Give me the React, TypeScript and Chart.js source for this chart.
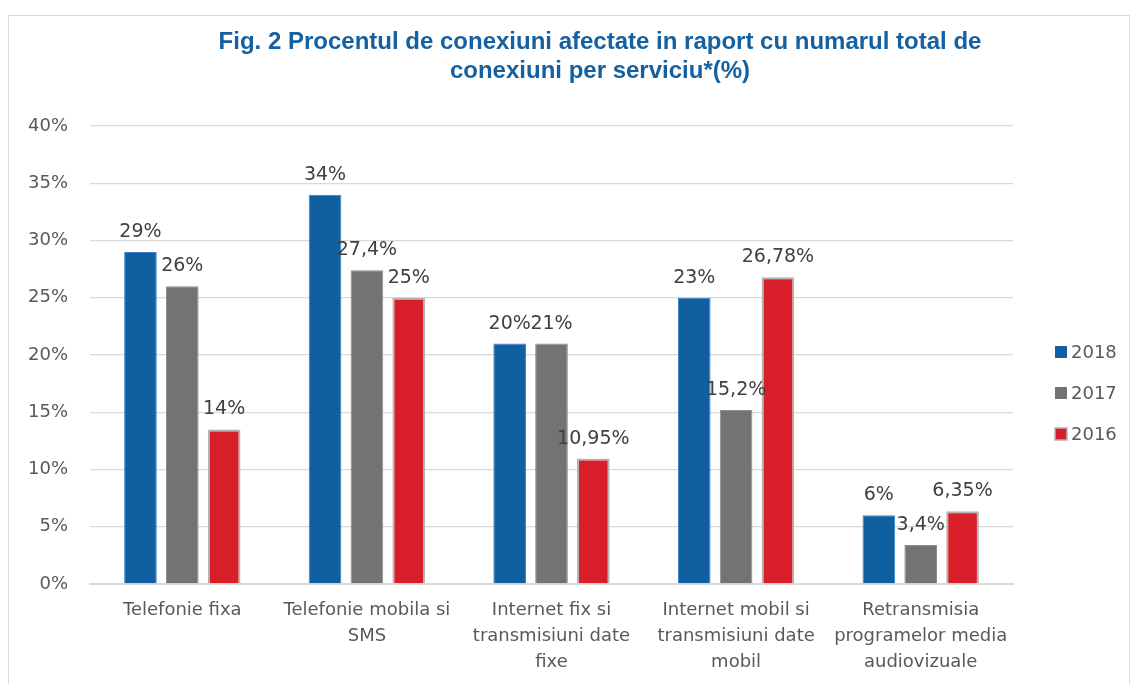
import React, { useEffect, useRef } from "react";
import { Chart, registerables } from "chart.js";

Chart.register(...registerables);

// ---- data ----
const titleLines = [
  "Fig. 2 Procentul de conexiuni afectate in raport cu numarul total de",
  "conexiuni per serviciu*(%)",
];
const categories: string[][] = [
  ["Telefonie fixa"],
  ["Telefonie mobila si", "SMS"],
  ["Internet fix si", "transmisiuni date", "fixe"],
  ["Internet mobil si", "transmisiuni date", "mobil"],
  ["Retransmisia", "programelor media", "audiovizuale"],
];
const seriesNames = ["2018", "2017", "2016"];
const values2018 = [29, 34, 21, 25, 6];
const values2017 = [26, 27.4, 21, 15.2, 3.4];
const values2016 = [13.5, 25, 10.95, 26.78, 6.35];
const labels2018 = ["29%", "34%", "20%", "23%", "6%"];
const labels2017 = ["26%", "27,4%", "21%", "15,2%", "3,4%"];
const labels2016 = ["14%", "25%", "10,95%", "26,78%", "6,35%"];
const yMin = 0;
const yMax = 40;
const yStep = 5;

const FONT = "'DejaVu Sans', Verdana, sans-serif";
const TEXT = "#595959";
const LABEL = "#404040";

const titlePlugin = {
  id: "customTitle",
  afterDraw(chart: any) {
    const ctx = chart.ctx;
    ctx.save();
    ctx.fillStyle = "#1560A0";
    ctx.font = "bold 24px 'Liberation Sans Narrow', 'Liberation Sans', Arial, sans-serif";
    ctx.textAlign = "center";
    ctx.textBaseline = "alphabetic";
    const cx = 591;
    titleLines.forEach((t, i) => ctx.fillText(t, cx, 33 + i * 29));
    ctx.restore();
  },
};

const valueLabelPlugin = {
  id: "valueLabels",
  afterDatasetsDraw(chart: any) {
    const ctx = chart.ctx;
    ctx.save();
    ctx.fillStyle = LABEL;
    ctx.font = `19px ${FONT}`;
    ctx.textAlign = "center";
    ctx.textBaseline = "alphabetic";
    chart.data.datasets.forEach((ds: any, di: number) => {
      const meta = chart.getDatasetMeta(di);
      meta.data.forEach((bar: any, i: number) => {
        ctx.fillText(ds.valueLabels[i], bar.x, bar.y - 15);
      });
    });
    ctx.restore();
  },
};

const legendPlugin = {
  id: "customLegend",
  afterDraw(chart: any) {
    const ctx = chart.ctx;
    const x0 = chart.chartArea.right + 42;
    const y0 = 336;
    const gap = 41;
    ctx.save();
    ctx.font = `18px ${FONT}`;
    ctx.textBaseline = "middle";
    ctx.textAlign = "left";
    chart.data.datasets.forEach((ds: any, i: number) => {
      const y = y0 + i * gap;
      ctx.fillStyle = ds.backgroundColor;
      ctx.fillRect(x0, y - 6, 12, 12);
      if (ds.borderWidth > 1) {
        ctx.strokeStyle = ds.borderColor;
        ctx.lineWidth = 1.5;
        ctx.strokeRect(x0, y - 6, 12, 12);
      }
      ctx.fillStyle = TEXT;
      ctx.fillText(ds.label, x0 + 16, y + 1);
    });
    ctx.restore();
  },
};

export default function App() {
  const ref = useRef<HTMLCanvasElement>(null);
  useEffect(() => {
    if (!ref.current) return;
    const chart = new Chart(ref.current, {
      type: "bar",
      data: {
        labels: categories,
        datasets: [
          {
            label: seriesNames[0],
            data: values2018,
            valueLabels: labels2018,
            backgroundColor: "#0F5FA1",
            borderColor: "#3C7FC0",
            borderWidth: 1,
          } as any,
          {
            label: seriesNames[1],
            data: values2017,
            valueLabels: labels2017,
            backgroundColor: "#737373",
            borderColor: "#8C8C8C",
            borderWidth: 1,
          } as any,
          {
            label: seriesNames[2],
            data: values2016,
            valueLabels: labels2016,
            backgroundColor: "#D71E29",
            borderColor: "#B4B4B4",
            borderWidth: 2,
          } as any,
        ],
      },
      options: {
        animation: false,
        responsive: false,
        maintainAspectRatio: false,
        layout: { padding: { top: 110, right: 116, left: 0, bottom: 0 } },
        datasets: { bar: { categoryPercentage: 0.68, barPercentage: 0.78 } },
        plugins: {
          legend: { display: false },
          title: { display: false },
          tooltip: { enabled: false },
        },
        scales: {
          x: {
            grid: { display: false, drawTicks: false },
            border: { display: true, color: "#D9D9D9", width: 2 },
            ticks: {
              color: TEXT,
              font: { family: FONT, size: 18, lineHeight: 1.45 },
              padding: 13,
              maxRotation: 0,
              autoSkip: false,
            },
            afterFit(axis: any) {
              axis.height = 100;
            },
          },
          y: {
            min: yMin,
            max: yMax,
            grid: { color: "#D9D9D9", lineWidth: 1.3, drawTicks: false },
            border: { display: false },
            ticks: {
              stepSize: yStep,
              color: TEXT,
              font: { family: FONT, size: 18 },
              padding: 22,
              callback: (v: any) => `${v}%`,
            },
            afterFit(axis: any) {
              axis.width = 81;
            },
          },
        },
      },
      plugins: [titlePlugin, valueLabelPlugin, legendPlugin],
    });
    return () => chart.destroy();
  }, []);

  return (
    <div
      style={{
        position: "absolute",
        left: 8,
        top: 15,
        width: 1120,
        height: 700,
        border: "1px solid #D9D9D9",
        background: "#fff",
      }}
    >
      <canvas ref={ref} width={1120} height={668} style={{ display: "block" }} />
    </div>
  );
}
